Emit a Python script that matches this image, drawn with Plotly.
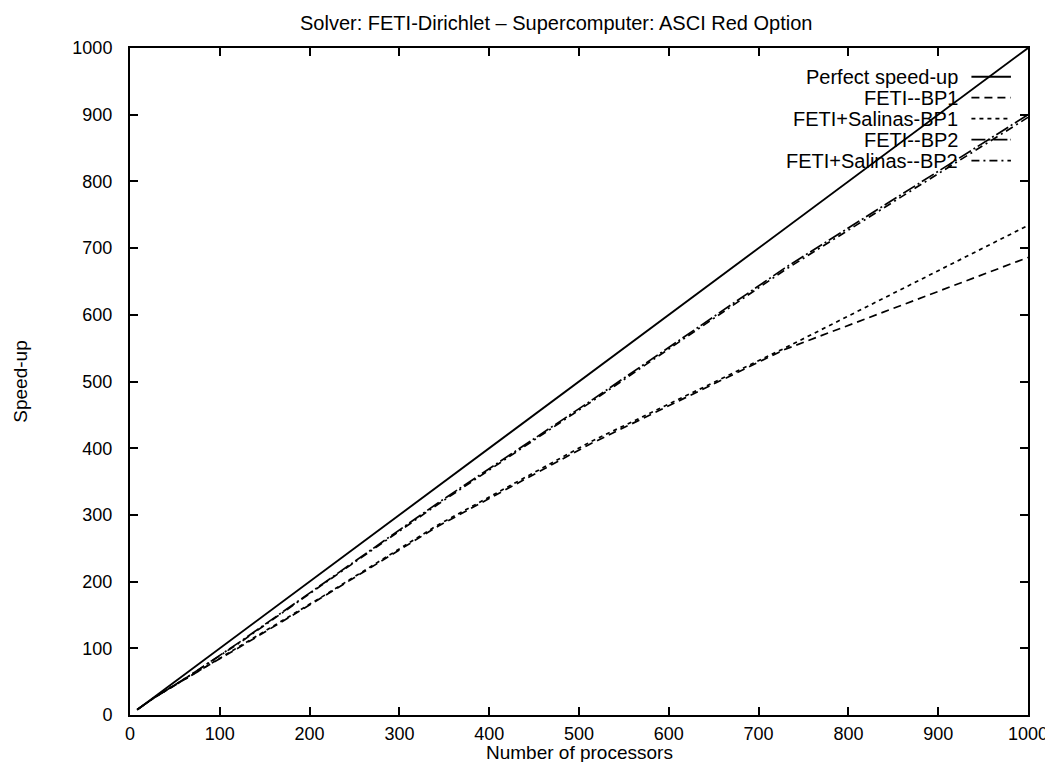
import plotly.graph_objects as go

# ---- data ----
processors = [8, 27, 64, 125, 216, 343, 512, 729, 1000]
perfect = [8, 27, 64, 125, 216, 343, 512, 729, 1000]
feti_bp1 = [8, 26, 56, 104, 178, 283, 406, 548, 686]
feti_salinas_bp1 = [8, 26, 56, 105, 179, 285, 409, 550, 734]
feti_bp2 = [8, 26, 57, 112, 198, 318, 470, 670, 900]
feti_salinas_bp2 = [8, 26, 57, 111, 197, 316, 468, 667, 896]

series_names = ["Perfect speed-up", "FETI--BP1", "FETI+Salinas-BP1",
                "FETI--BP2", "FETI+Salinas--BP2"]
series_values = [perfect, feti_bp1, feti_salinas_bp1, feti_bp2, feti_salinas_bp2]

x_ticks = list(range(0, 1001, 100))
y_ticks = list(range(0, 1001, 100))

title_text = "Solver: FETI-Dirichlet \u2013 Supercomputer: ASCI Red Option"
x_title = "Number of processors"
y_title = "Speed-up"

# ---- styles ----
dashes = ["solid", "8px,5px", "4px,4px", "14px,3px,2px,3px", "8px,4px,2px,4px"]
widths = [1.9, 1.7, 1.7, 1.7, 1.7]
FONT = "Liberation Sans, Arial, sans-serif"

fig = go.Figure()
for name, vals, d, w in zip(series_names, series_values, dashes, widths):
    fig.add_trace(go.Scatter(
        x=processors, y=vals, mode="lines", name=name,
        line=dict(color="black", width=w, dash=d), showlegend=False,
    ))

# gnuplot-style legend: right-aligned text, sample line on the right
legend_y0 = 0.957
legend_step = 0.0315
shapes = []
annotations = []
for i, (name, d, w) in enumerate(zip(series_names, dashes, widths)):
    yy = legend_y0 - i * legend_step
    annotations.append(dict(
        x=0.924, y=yy, xref="paper", yref="paper", text=name,
        showarrow=False, xanchor="right", yanchor="middle",
        font=dict(family=FONT, size=20, color="black"),
    ))
    shapes.append(dict(
        type="line", xref="paper", yref="paper",
        x0=0.937, x1=0.981, y0=yy, y1=yy,
        line=dict(color="black", width=w, dash=d),
    ))

# chart title
annotations.append(dict(
    x=0.474, y=1.0375, xref="paper", yref="paper", text=title_text,
    showarrow=False, xanchor="center", yanchor="middle",
    font=dict(family=FONT, size=20, color="black"),
))
# x-axis title (placed precisely below the tick labels)
annotations.append(dict(
    x=0.5, y=-0.056, xref="paper", yref="paper", text=x_title,
    showarrow=False, xanchor="center", yanchor="middle",
    font=dict(family=FONT, size=19, color="black"),
))

axis_common = dict(
    range=[0, 1000], showgrid=False, zeroline=False,
    showline=True, linecolor="black", linewidth=2, mirror="ticks",
    ticks="inside", ticklen=8, tickwidth=1.5, tickcolor="black",
    tickfont=dict(family=FONT, size=18, color="black"),
)

fig.update_layout(
    width=1053, height=762, autosize=False,
    margin=dict(l=122, r=33, t=40, b=55),
    paper_bgcolor="white", plot_bgcolor="white",
    font=dict(family=FONT, size=18, color="black"),
    xaxis=dict(**axis_common, tickvals=x_ticks, ticklabelstandoff=1),
    yaxis=dict(**axis_common, tickvals=y_ticks, ticklabelstandoff=12,
               title=dict(text=y_title, standoff=40,
                          font=dict(family=FONT, size=19))),
    shapes=shapes, annotations=annotations,
)

fig.write_html("out.html")
